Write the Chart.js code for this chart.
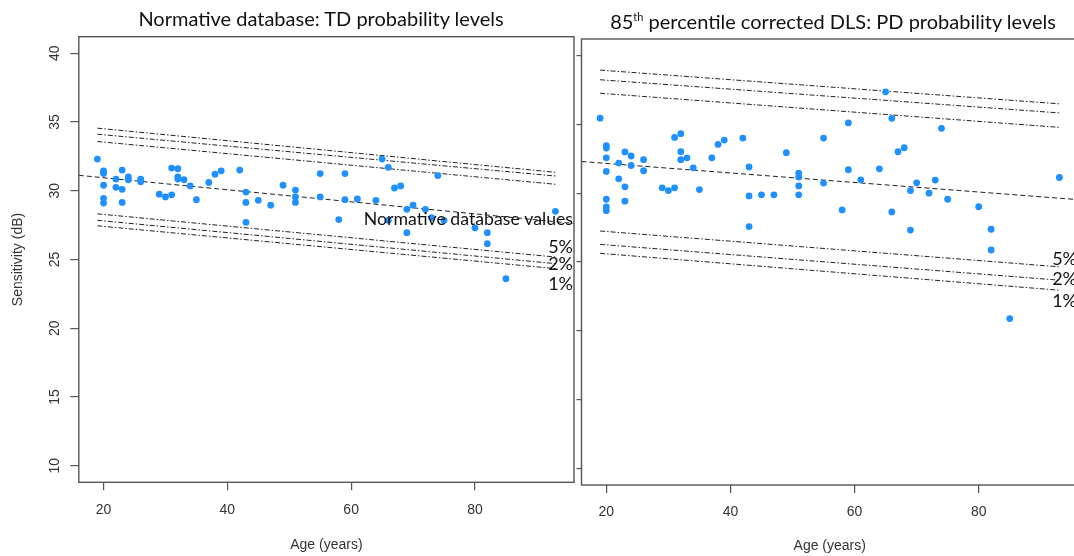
<!DOCTYPE html>
<html>
<head>
<meta charset="utf-8">
<script src="https://cdn.jsdelivr.net/npm/chart.js@4.4.0/dist/chart.umd.min.js"></script>
<style>
  html, body { margin: 0; padding: 0; background: #fff; overflow: hidden; }
  #stage { position: relative; width: 1074px; height: 556px; overflow: hidden; }
  canvas { position: absolute; top: 0; }
  #leftChart { left: 0; }
  #rightChart { left: 572px; }
  .title { position: absolute; font-family: Lato, sans-serif; font-size: 20px; line-height: 1.2; color: #111; white-space: nowrap; transform: translateX(-50%); }
  .title span { font-size: 11px; position: relative; top: -8px; }
</style>
</head>
<body>
<div id="stage">
  <canvas id="leftChart" width="578" height="556"></canvas>
  <canvas id="rightChart" width="520" height="556"></canvas>
  <div class="title" style="left:321px; top:6px">Normative database: TD probability levels</div>
  <div class="title" style="left:833px; top:9px">85<span>th</span> percentile corrected DLS: PD probability levels</div>
</div>
<script>
const xTicks = [20, 40, 60, 80];
const yTicks = [10, 15, 20, 25, 30, 35, 40];
const lineAges = [19, 93];      // percentile lines span the data
const fitAges = [16, 96];       // regression line spans the panel

// left panel: normative database (TD)
const tdAge = [19, 20, 20, 20, 20, 20, 22, 22, 23, 23, 23, 24, 24, 26, 26, 29, 30, 31, 31, 32, 32, 32,
  33, 34, 35, 37, 38, 39, 42, 43, 43, 43, 45, 47, 49, 51, 51, 51, 55, 55, 58, 59, 59, 61, 64, 65,
  66, 66, 67, 68, 69, 69, 70, 72, 73, 75, 74, 80, 82, 82, 85, 93];
const tdSens = [32.3, 31.45, 31.25, 30.4, 29.45, 29.1, 30.85, 30.25, 31.5, 30.1, 29.15, 31.0, 30.8, 30.85, 30.65,
  29.75, 29.55, 29.7, 31.65, 31.6, 31.0, 30.85, 30.8, 30.35, 29.35, 30.6, 31.2, 31.45, 31.5, 29.9, 29.15, 27.7,
  29.3, 28.95, 30.4, 30.05, 29.55, 29.15, 31.25, 29.55, 27.9, 31.25, 29.35, 29.4, 29.3, 32.3, 31.7, 27.85,
  30.2, 30.35, 28.65, 26.95, 28.95, 28.65, 28.05, 27.85, 31.1, 27.3, 26.95, 26.15, 23.6, 28.5];
const tdFit = [31.12, 27.62];
const tdHigh1 = [34.55, 31.34];
const tdHigh2 = [34.11, 31.07];
const tdHigh3 = [33.58, 30.47];
const tdLow5 = [28.32, 25.18];
const tdLow2 = [27.85, 24.70];
const tdLow1 = [27.45, 24.34];

// right panel: 85th percentile corrected DLS (PD)
const pdAge = [19, 20, 20, 20, 20, 20, 20, 20, 22, 22, 23, 23, 23, 24, 24, 26, 26, 29, 30, 31, 31, 32, 32, 32,
  33, 34, 35, 37, 38, 39, 42, 43, 43, 43, 45, 47, 49, 51, 51, 51, 51, 55, 55, 58, 59, 59, 61, 64, 65, 66, 66,
  67, 68, 69, 69, 70, 72, 73, 74, 75, 80, 82, 82, 85, 93];
const pdSens = [35.45, 33.45, 33.28, 32.57, 31.58, 29.56, 29.0, 28.73, 32.19, 31.04, 33.0, 30.46, 29.42, 32.7, 32.01,
  32.43, 31.63, 30.39, 30.19, 30.39, 34.05, 34.32, 33.01, 32.43, 32.57, 31.84, 30.26, 32.57, 33.54, 33.86, 34.0,
  31.91, 29.8, 27.57, 29.88, 29.88, 32.94, 31.46, 31.17, 30.53, 29.88, 34.0, 30.73, 28.78, 35.1, 31.7, 30.97,
  31.77, 37.36, 35.44, 28.64, 33.01, 33.3, 30.19, 27.32, 30.75, 30.0, 30.95, 34.71, 29.56, 29.02, 27.38, 25.87,
  20.89, 31.14];
const pdFit = [32.3, 29.53];
const pdHigh1 = [38.94, 36.49];
const pdHigh2 = [38.24, 35.83];
const pdHigh3 = [37.26, 34.78];
const pdLow5 = [27.25, 24.65];
const pdLow2 = [26.28, 23.68];
const pdLow1 = [25.63, 22.95];

const tdNotes = ['Normative database values', '5%', '2%', '1%'];
const tdNoteLevels = [27.5, 25.47, 24.21, 22.8];
const pdNotes = ['5%', '2%', '1%'];
const pdNoteLevels = [24.77, 23.32, 21.73];

const axisFont = { family: 'Liberation Sans, Arial, sans-serif', size: 14 };
const axisColor = '#333';

function pairs(xs, ys) {
  return xs.map((x, i) => ({ x: x, y: ys[i] }));
}

function refLine(ages, vals, dash) {
  return {
    type: 'line', data: pairs(ages, vals), showLine: true, pointRadius: 0,
    borderColor: '#222', borderWidth: 1, borderDash: dash, fill: false
  };
}

const frame = {
  id: 'frame',
  afterDraw(chart, args, opts) {
    const { ctx, chartArea: a, scales } = chart;
    ctx.save();
    ctx.strokeStyle = '#555';
    ctx.lineWidth = 1.4;
    ctx.strokeRect(a.left, a.top, a.right - a.left, a.bottom - a.top);
    ctx.fillStyle = '#111';
    ctx.textAlign = 'right';
    ctx.textBaseline = 'alphabetic';
    opts.notes.forEach((t, i) => {
      ctx.font = (t.length > 3 ? 17.7 : 18) + 'px Lato';
      ctx.fillText(t, a.right - 1, scales.y.getPixelForValue(opts.levels[i]));
    });
    ctx.restore();
  }
};

function makeChart(id, p) {
  const dd = [5, 2, 1.5, 2];
  return new Chart(document.getElementById(id), {
    type: 'scatter',
    data: {
      datasets: [
        { data: pairs(p.age, p.sens), pointRadius: 3.4, pointBackgroundColor: '#1E90FF', pointBorderWidth: 0 },
        refLine(fitAges, p.fit, [5, 3]),
        refLine(lineAges, p.high1, dd),
        refLine(lineAges, p.high2, dd),
        refLine(lineAges, p.high3, dd),
        refLine(lineAges, p.low5, dd),
        refLine(lineAges, p.low2, dd),
        refLine(lineAges, p.low1, dd)
      ]
    },
    options: {
      responsive: false,
      animation: false,
      layout: { padding: { top: p.top, right: p.right, left: 0, bottom: 0 } },
      plugins: {
        legend: { display: false },
        tooltip: { enabled: false },
        frame: { notes: p.notes, levels: p.levels }
      },
      scales: {
        x: {
          type: 'linear', min: 16, max: 96,
          afterBuildTicks: s => { s.ticks = xTicks.map(v => ({ value: v })); },
          afterFit: s => { s.height = p.xHeight; },
          grid: { drawOnChartArea: false, tickLength: 8, color: '#555', lineWidth: 1.2 },
          border: { display: false },
          ticks: { font: axisFont, color: axisColor, padding: 11 },
          title: { display: true, text: 'Age (years)', font: axisFont, color: axisColor, padding: { top: 0, bottom: p.xTitlePad } }
        },
        y: {
          type: 'linear', min: 8.8, max: 41.2,
          afterBuildTicks: s => { s.ticks = yTicks.map(v => ({ value: v })); },
          afterFit: s => { s.width = p.yWidth; },
          grid: { drawOnChartArea: false, tickLength: p.yTick, color: '#555', lineWidth: 1.2 },
          border: { display: false },
          ticks: { display: p.yLabels, font: axisFont, color: axisColor, minRotation: 90, maxRotation: 90, crossAlign: 'center', padding: 7 },
          title: { display: p.yLabels, text: 'Sensitivity (dB)', font: axisFont, color: axisColor, padding: { top: 10, bottom: 0 } }
        }
      }
    },
    plugins: [frame]
  });
}

makeChart('leftChart', {
  age: tdAge, sens: tdSens, fit: tdFit,
  high1: tdHigh1, high2: tdHigh2, high3: tdHigh3, low5: tdLow5, low2: tdLow2, low1: tdLow1,
  notes: tdNotes, levels: tdNoteLevels,
  top: 36.7, right: 3, xHeight: 73.7, yWidth: 78.8, yTick: 8.5, yLabels: true, xTitlePad: 2.6
});

makeChart('rightChart', {
  age: pdAge, sens: pdSens, fit: pdFit,
  high1: pdHigh1, high2: pdHigh2, high3: pdHigh3, low5: pdLow5, low2: pdLow2, low1: pdLow1,
  notes: pdNotes, levels: pdNoteLevels,
  top: 39, right: 14, xHeight: 71, yWidth: 9.5, yTick: 5, yLabels: false, xTitlePad: 1
});
</script>
</body>
</html>
